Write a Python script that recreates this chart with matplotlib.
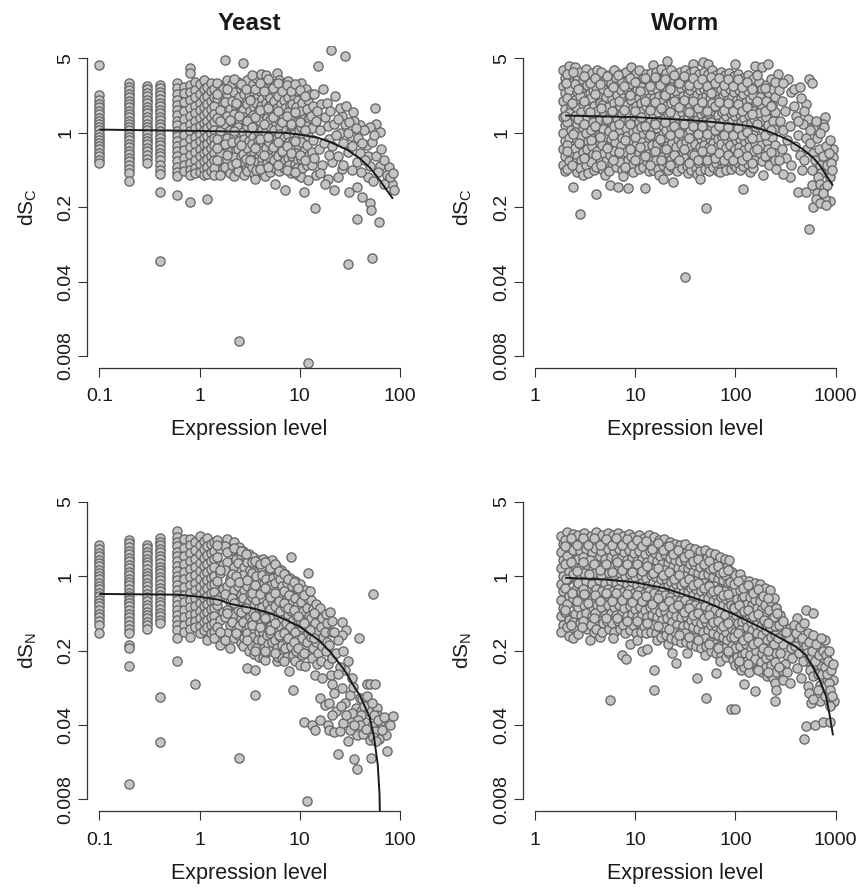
import matplotlib
matplotlib.use('Agg')
import matplotlib.pyplot as plt
from matplotlib.ticker import NullLocator

plt.rcParams['font.family'] = ['Liberation Sans', 'DejaVu Sans']
plt.rcParams['mathtext.fontset'] = 'custom'
plt.rcParams['mathtext.rm'] = 'Liberation Sans'

# ---------------- data ----------------
titles = ["Yeast", "Worm"]
x_label = "Expression level"
y_labels = [r"dS$_\mathregular{C}$", r"dS$_\mathregular{N}$"]
y_ticks = [0.008, 0.04, 0.2, 1, 5]
y_ticklabels = ["0.008", "0.04", "0.2", "1", "5"]
yeast_xticks = [0.1, 1, 10, 100]
yeast_xticklabels = ["0.1", "1", "10", "100"]
worm_xticks = [1, 10, 100, 1000]
worm_xticklabels = ["1", "10", "100", "1000"]

# ---- Yeast dSC ----
# genes with low (rounded) expression levels: expression -> dSC values
yeast_dsc_cols = {
    0.1: [4.3, 2.25, 2.05, 1.88, 1.74, 1.6, 1.49, 1.38, 1.28, 1.2, 1.12, 1.05, 0.98, 0.92, 0.86, 0.8, 0.75, 0.7, 0.65, 0.6, 0.56, 0.52],
    0.2: [2.9, 2.7, 2.5, 2.32, 2.15, 2.0, 1.86, 1.73, 1.6, 1.5, 1.4, 1.3, 1.21, 1.13, 1.05, 0.98, 0.91, 0.85, 0.79, 0.73, 0.68, 0.63, 0.58, 0.54, 0.5, 0.46, 0.42, 0.355],
    0.3: [2.73, 2.55, 2.37, 2.2, 2.04, 1.9, 1.76, 1.63, 1.52, 1.41, 1.31, 1.22, 1.13, 1.05, 0.97, 0.9, 0.84, 0.78, 0.72, 0.67, 0.62, 0.57, 0.52],
    0.4: [2.83, 2.62, 2.42, 2.24, 2.07, 1.92, 1.78, 1.65, 1.53, 1.42, 1.31, 1.22, 1.13, 1.04, 0.96, 0.89, 0.82, 0.76, 0.7, 0.65, 0.6, 0.55, 0.5, 0.45, 0.41, 0.28, 0.063],
    0.6: [2.9, 2.62, 2.3, 2.05, 1.84, 1.63, 1.47, 1.3, 1.17, 1.04, 0.94, 0.84, 0.75, 0.67, 0.6, 0.54, 0.48, 0.43, 0.39, 0.26],
    0.7: [2.7, 2.35, 1.95, 1.6, 1.36, 1.12, 0.95, 0.8, 0.69, 0.58, 0.5, 0.44],
    0.8: [4.06, 3.64, 2.8, 2.4, 2.05, 1.7, 1.45, 1.22, 1.03, 0.88, 0.73, 0.62, 0.52, 0.45, 0.4, 0.225],
    0.9: [3.0, 2.5, 2.15, 1.78, 1.52, 1.28, 1.1, 0.92, 0.79, 0.66, 0.56, 0.47, 0.42],
    1.0: [2.85, 2.3, 1.92, 1.62, 1.37, 1.16, 0.98, 0.84, 0.7, 0.6, 0.51, 0.43],
    1.1: [3.1, 2.6, 2.1, 1.75, 1.46, 1.24, 1.05, 0.89, 0.76, 0.64, 0.54, 0.46, 0.4],
    1.2: [2.7, 2.2, 1.86, 1.55, 1.3, 1.11, 0.93, 0.79, 0.67, 0.57, 0.48, 0.41, 0.24],
    1.3: [2.95, 2.45, 2.0, 1.68, 1.42, 1.19, 1.0, 0.85, 0.72, 0.61, 0.52, 0.44],
    1.4: [2.6, 2.15, 1.8, 1.5, 1.27, 1.07, 0.9, 0.77, 0.65, 0.55, 0.47, 0.4],
}
# (expression, dSC) for the continuous part of the cloud
yeast_dsc_pts = [
    (1.5, 2.9), (1.6, 2.45), (1.5, 2.1), (1.7, 1.9), (1.6, 1.62), (1.5, 1.38), (1.7, 1.2), (1.6, 1.03), (1.5, 0.88), (1.7, 0.76), (1.6, 0.65), (1.5, 0.55), (1.7, 0.47), (1.6, 0.4),
    (1.8, 4.79), (1.8, 2.75), (1.9, 2.3), (1.8, 1.95), (2.0, 1.68), (1.9, 1.44), (1.8, 1.22), (2.0, 1.05), (1.9, 0.9), (1.8, 0.78), (2.0, 0.66), (1.9, 0.56), (1.8, 0.48), (2.0, 0.42), (1.7, 2.6), (1.9, 3.1),
    (2.1, 2.85), (2.2, 2.4), (2.1, 2.0), (2.3, 1.75), (2.2, 1.5), (2.1, 1.27), (2.3, 1.1), (2.2, 0.95), (2.1, 0.81), (2.3, 0.69), (2.2, 0.59), (2.1, 0.5), (2.3, 0.43), (2.2, 0.39),
    (2.4, 3.0), (2.6, 2.55), (2.5, 2.15), (2.4, 1.82), (2.6, 1.56), (2.5, 1.33), (2.4, 1.13), (2.6, 0.97), (2.5, 0.83), (2.4, 0.7), (2.6, 0.6), (2.5, 0.51), (2.4, 0.44), (2.7, 4.52),
    (2.7, 2.75), (2.8, 2.3), (2.9, 1.95), (2.7, 1.65), (2.8, 1.4), (2.9, 1.19), (2.7, 1.02), (2.8, 0.87), (2.9, 0.74), (2.7, 0.63), (2.8, 0.53), (2.9, 0.46), (2.8, 0.4),
    (3.0, 3.15), (3.2, 2.6), (3.1, 2.2), (3.0, 1.88), (3.2, 1.6), (3.1, 1.36), (3.0, 1.16), (3.2, 0.99), (3.1, 0.84), (3.0, 0.72), (3.2, 0.61), (3.1, 0.52), (3.0, 0.44),
    (3.4, 2.85), (3.5, 2.4), (3.3, 2.05), (3.5, 1.74), (3.4, 1.48), (3.3, 1.26), (3.5, 1.07), (3.4, 0.91), (3.3, 0.78), (3.5, 0.66), (3.4, 0.56), (3.3, 0.48), (3.5, 0.41), (3.6, 0.37),
    (3.7, 3.3), (3.9, 2.7), (3.8, 2.25), (3.7, 1.92), (3.9, 1.63), (3.8, 1.39), (3.7, 1.18), (3.9, 1.0), (3.8, 0.86), (3.7, 0.73), (3.9, 0.62), (3.8, 0.53), (3.7, 0.45),
    (4.1, 3.55), (4.2, 2.9), (4.0, 2.45), (4.2, 2.08), (4.1, 1.77), (4.3, 1.5), (4.0, 1.28), (4.2, 1.09), (4.1, 0.93), (4.3, 0.79), (4.0, 0.67), (4.2, 0.57), (4.1, 0.49), (4.3, 0.42),
    (4.6, 3.51), (4.5, 2.65), (4.7, 2.25), (4.6, 1.9), (4.5, 1.62), (4.7, 1.38), (4.6, 1.17), (4.5, 1.0), (4.7, 0.85), (4.6, 0.72), (4.5, 0.61), (4.7, 0.52), (4.6, 0.44), (4.5, 0.39),
    (5.0, 3.0), (5.2, 2.5), (5.1, 2.12), (4.9, 1.8), (5.3, 1.53), (5.0, 1.31), (5.2, 1.11), (5.1, 0.95), (4.9, 0.81), (5.3, 0.69), (5.0, 0.58), (5.2, 0.5), (5.1, 0.43),
    (5.9, 3.64), (5.6, 2.8), (5.8, 2.35), (5.5, 2.0), (5.9, 1.7), (5.6, 1.45), (5.8, 1.23), (5.5, 1.05), (5.9, 0.89), (5.6, 0.76), (5.8, 0.65), (5.5, 0.55), (5.7, 0.47), (5.6, 0.333),
    (6.2, 3.1), (6.4, 2.6), (6.1, 2.2), (6.5, 1.86), (6.3, 1.58), (6.1, 1.35), (6.4, 1.14), (6.2, 0.97), (6.5, 0.83), (6.3, 0.7), (6.1, 0.6), (6.4, 0.51), (6.2, 0.44),
    (6.8, 2.85), (7.1, 2.4), (6.9, 2.02), (7.2, 1.72), (6.8, 1.46), (7.0, 1.25), (7.3, 1.06), (6.9, 0.9), (7.1, 0.77), (6.8, 0.65), (7.2, 0.55), (7.0, 0.47), (7.1, 0.29),
    (7.6, 3.05), (7.9, 2.55), (7.7, 2.15), (8.0, 1.83), (7.6, 1.55), (7.8, 1.32), (8.1, 1.12), (7.7, 0.95), (7.9, 0.81), (8.0, 0.69), (7.6, 0.58), (7.8, 0.5), (8.1, 0.42),
    (8.5, 2.65), (8.8, 2.2), (8.4, 1.88), (8.9, 1.6), (8.6, 1.36), (8.3, 1.15), (8.8, 0.98), (8.5, 0.83), (8.7, 0.71), (8.4, 0.6), (8.9, 0.51), (8.6, 0.44),
    (9.3, 2.45), (9.7, 2.05), (9.2, 1.73), (9.6, 1.47), (9.4, 1.25), (9.8, 1.06), (9.3, 0.9), (9.6, 0.77), (9.2, 0.65), (9.7, 0.55), (9.4, 0.47), (9.6, 0.4),
    (10.2, 2.9), (10.8, 2.3), (10.5, 1.9), (10.1, 1.6), (10.9, 1.36), (10.4, 1.14), (10.7, 0.96), (10.2, 0.81), (10.9, 0.68), (10.4, 0.57), (10.6, 0.47), (10.3, 0.38), (10.9, 0.28),
    (11.5, 2.55), (12.2, 2.05), (11.8, 1.68), (12.4, 1.38), (11.6, 1.15), (12.1, 0.94), (11.7, 0.77), (12.3, 0.62), (11.9, 0.5), (12.2, 0.36), (12.0, 0.0069),
    (13.0, 2.3), (13.5, 1.78), (12.9, 1.45), (13.3, 1.1), (13.6, 0.85), (13.1, 0.66), (13.4, 0.5), (2.5, 0.011),
]
yeast_dsc_pts_b = [
    (1.5, 2.3), (1.6, 1.3), (1.5, 0.72), (1.9, 2.55), (2.0, 1.32), (1.9, 0.62),
    (2.2, 3.2), (2.3, 1.9), (2.2, 1.03), (2.3, 0.52), (2.6, 2.85), (2.5, 1.45), (2.6, 0.76),
    (2.9, 2.55), (3.0, 1.3), (2.9, 0.57), (3.3, 3.5), (3.2, 2.05), (3.3, 1.12), (3.2, 0.55),
    (3.6, 2.6), (3.6, 1.4), (3.6, 0.72), (4.0, 2.95), (4.0, 1.65), (4.0, 0.88), (4.0, 0.46),
    (4.4, 2.45), (4.4, 1.2), (4.4, 0.62), (4.8, 3.2), (4.8, 1.7), (4.8, 0.92), (4.8, 0.48),
    (5.4, 2.65), (5.4, 1.4), (5.4, 0.74), (6.0, 2.95), (6.0, 1.6), (6.0, 0.82), (6.0, 0.5),
    (6.6, 2.45), (6.6, 1.25), (6.6, 0.68), (7.4, 2.8), (7.4, 1.45), (7.4, 0.75), (7.4, 0.45),
    (8.2, 2.45), (8.2, 1.2), (8.2, 0.64), (9.0, 2.85), (9.0, 1.55), (9.0, 0.83), (9.0, 0.43),
    (10.0, 2.5), (10.0, 1.25), (10.0, 0.62), (11.2, 2.2), (11.2, 1.05), (11.2, 0.55),
]
yeast_dsc_sparse_x = [15.1, 20.3, 28.2, 22.6, 16.4, 26.4, 34.3, 56.5, 57.7, 63.3, 50, 39.5, 32.5, 25, 19.8, 30.4, 46.8, 52.6, 48, 36.9,
                      26.4, 21.2, 50, 63.3, 77.5, 60.5, 48, 41, 83.5, 88, 68.5, 53.5, 31.1, 37, 22.2, 19, 14.5, 14.1, 42, 50,
                      51, 37, 62, 30.4, 52.6, 14, 15, 14.5, 16, 15.5, 14, 16.5, 18, 19, 17.5, 19.5, 21, 22, 23, 24,
                      25, 27, 28, 30, 33, 35, 38, 40, 44, 45, 55, 58, 65, 70, 75, 80, 85, 17, 18.5, 20,
                      24, 29, 31, 36, 42, 16, 18, 24, 27, 33]
yeast_dsc_sparse_y = [4.26, 6.0, 5.2, 2.2, 1.87, 1.45, 1.56, 1.70, 1.21, 1.02, 1.13, 1.17, 0.94, 1.0, 0.88, 0.66, 0.76, 0.82, 0.61, 0.53,
                      0.46, 0.53, 0.49, 0.49, 0.48, 0.43, 0.385, 0.43, 0.33, 0.29, 0.33, 0.35, 0.28, 0.31, 0.29, 0.37, 0.40, 0.195, 0.25, 0.22,
                      0.19, 0.155, 0.144, 0.059, 0.067, 2.3, 1.6, 1.3, 1.05, 0.7, 0.58, 0.5, 1.4, 1.15, 0.8, 0.62, 0.75, 1.2, 0.95, 0.6,
                      1.7, 0.8, 1.2, 1.0, 0.75, 1.3, 0.9, 0.65, 1.05, 0.55, 0.95, 0.6, 0.7, 0.55, 0.4, 0.38, 0.42, 2.6, 1.9, 1.6,
                      1.35, 1.8, 1.25, 1.1, 0.8, 0.42, 0.33, 0.38, 0.5, 0.45]
yeast_dsc_curve_x = [0.1, 1, 3, 7, 10, 15, 20, 30, 40, 50, 60, 70, 85]
yeast_dsc_curve_y = [1.07, 1.04, 1.02, 1.0, 0.96, 0.9, 0.82, 0.69, 0.57, 0.47, 0.38, 0.31, 0.24]

# ---- Yeast dSN ----
yeast_dsn_cols = {
    0.1: [1.95, 1.8, 1.66, 1.54, 1.43, 1.33, 1.24, 1.15, 1.07, 1.0, 0.93, 0.87, 0.81, 0.75, 0.7, 0.65, 0.6, 0.56, 0.52, 0.48, 0.445, 0.41, 0.38, 0.35, 0.29],
    0.2: [2.19, 2.03, 1.88, 1.74, 1.61, 1.49, 1.38, 1.28, 1.19, 1.1, 1.02, 0.95, 0.88, 0.82, 0.76, 0.7, 0.65, 0.6, 0.56, 0.52, 0.48, 0.44, 0.41, 0.38, 0.35, 0.32, 0.29, 0.226, 0.21, 0.143, 0.0112],
    0.3: [1.98, 1.84, 1.7, 1.58, 1.46, 1.36, 1.26, 1.17, 1.08, 1.0, 0.93, 0.86, 0.8, 0.74, 0.68, 0.63, 0.58, 0.54, 0.5, 0.46, 0.43, 0.4, 0.37, 0.345, 0.32],
    0.4: [2.27, 2.1, 1.95, 1.8, 1.67, 1.55, 1.44, 1.33, 1.23, 1.14, 1.06, 0.98, 0.91, 0.84, 0.78, 0.72, 0.67, 0.62, 0.57, 0.53, 0.49, 0.45, 0.42, 0.39, 0.363, 0.073, 0.0276],
    0.6: [2.64, 2.35, 2.1, 1.9, 1.7, 1.53, 1.38, 1.24, 1.12, 1.01, 0.91, 0.82, 0.74, 0.66, 0.6, 0.54, 0.48, 0.43, 0.39, 0.35, 0.31, 0.26, 0.16],
    0.7: [2.25, 1.85, 1.55, 1.3, 1.1, 0.93, 0.79, 0.67, 0.57, 0.48, 0.41, 0.35, 0.3],
    0.8: [2.23, 1.98, 1.65, 1.38, 1.16, 0.98, 0.83, 0.7, 0.6, 0.51, 0.43, 0.37, 0.32, 0.27],
    0.9: [2.1, 1.75, 1.46, 1.22, 1.03, 0.87, 0.74, 0.62, 0.52, 0.44, 0.38, 0.33, 0.097],
    1.0: [2.37, 1.95, 1.6, 1.33, 1.12, 0.94, 0.79, 0.67, 0.56, 0.47, 0.4, 0.34, 0.29],
    1.1: [2.15, 1.78, 1.48, 1.24, 1.04, 0.87, 0.73, 0.62, 0.52, 0.44, 0.37, 0.31],
    1.2: [2.3, 1.9, 1.57, 1.31, 1.09, 0.92, 0.77, 0.65, 0.55, 0.46, 0.39, 0.33, 0.25],
    1.3: [2.0, 1.66, 1.38, 1.16, 0.97, 0.82, 0.69, 0.58, 0.49, 0.41, 0.35, 0.29],
    1.4: [2.1, 1.74, 1.45, 1.21, 1.01, 0.85, 0.71, 0.6, 0.5, 0.42, 0.36, 0.3, 0.26],
}
yeast_dsn_pts = [
    (1.5, 2.2), (1.6, 1.8), (1.5, 1.5), (1.7, 1.27), (1.6, 1.07), (1.5, 0.9), (1.7, 0.76), (1.6, 0.64), (1.5, 0.54), (1.7, 0.46), (1.6, 0.39), (1.5, 0.33), (1.7, 0.28), (1.6, 0.226),
    (1.9, 2.23), (1.8, 1.9), (2.0, 1.6), (1.9, 1.35), (1.8, 1.13), (2.0, 0.95), (1.9, 0.8), (1.8, 0.68), (2.0, 0.57), (1.9, 0.48), (1.8, 0.41), (2.0, 0.35), (1.9, 0.29), (2.0, 0.21), (1.8, 0.25),
    (2.2, 2.09), (2.1, 1.75), (2.3, 1.46), (2.2, 1.23), (2.1, 1.04), (2.3, 0.88), (2.2, 0.74), (2.1, 0.62), (2.3, 0.52), (2.2, 0.44), (2.1, 0.37), (2.3, 0.31), (2.2, 0.26),
    (2.5, 1.88), (2.6, 1.58), (2.4, 1.33), (2.6, 1.12), (2.5, 0.95), (2.4, 0.8), (2.6, 0.67), (2.5, 0.57), (2.4, 0.48), (2.6, 0.4), (2.5, 0.34), (2.4, 0.28), (2.6, 0.235), (2.5, 0.0194),
    (2.7, 1.71), (2.9, 1.45), (2.8, 1.22), (2.7, 1.03), (2.9, 0.87), (2.8, 0.74), (2.7, 0.62), (2.9, 0.52), (2.8, 0.44), (2.7, 0.37), (2.9, 0.31), (2.8, 0.26), (2.7, 0.22),
    (3.1, 1.6), (3.0, 1.35), (3.2, 1.13), (3.1, 0.96), (3.0, 0.81), (3.2, 0.68), (3.1, 0.57), (3.0, 0.48), (3.2, 0.41), (3.1, 0.34), (3.0, 0.29), (3.2, 0.24), (3.1, 0.2), (3.0, 0.137),
    (3.4, 1.52), (3.5, 1.27), (3.3, 1.07), (3.5, 0.9), (3.4, 0.76), (3.3, 0.64), (3.5, 0.54), (3.4, 0.45), (3.3, 0.38), (3.5, 0.32), (3.4, 0.27), (3.3, 0.22), (3.5, 0.185), (3.6, 0.132), (3.6, 0.076),
    (3.8, 1.42), (3.9, 1.18), (3.7, 1.0), (3.9, 0.84), (3.8, 0.71), (3.7, 0.6), (3.9, 0.5), (3.8, 0.42), (3.7, 0.36), (3.9, 0.3), (3.8, 0.25), (3.7, 0.21), (3.9, 0.175),
    (4.3, 1.46), (4.1, 1.22), (4.2, 1.02), (4.4, 0.86), (4.1, 0.72), (4.3, 0.61), (4.2, 0.51), (4.4, 0.43), (4.1, 0.36), (4.3, 0.3), (4.2, 0.25), (4.4, 0.21), (4.3, 0.17), (4.5, 0.164),
    (4.7, 1.35), (4.9, 1.12), (4.6, 0.95), (4.8, 0.8), (4.9, 0.67), (4.7, 0.56), (4.8, 0.47), (4.6, 0.4), (4.9, 0.33), (4.7, 0.28), (4.8, 0.23), (4.6, 0.195),
    (5.3, 1.41), (5.1, 1.16), (5.4, 0.97), (5.2, 0.82), (5.0, 0.69), (5.3, 0.58), (5.1, 0.49), (5.4, 0.41), (5.2, 0.34), (5.0, 0.29), (5.3, 0.24), (5.1, 0.2), (5.9, 0.158),
    (5.8, 1.25), (6.0, 1.03), (5.7, 0.87), (6.1, 0.73), (5.9, 0.61), (5.6, 0.52), (6.0, 0.43), (5.8, 0.36), (6.1, 0.3), (5.7, 0.25), (5.9, 0.21), (6.0, 0.175),
    (6.5, 1.15), (6.3, 0.95), (6.7, 0.8), (6.4, 0.67), (6.6, 0.56), (6.3, 0.47), (6.7, 0.39), (6.5, 0.33), (6.4, 0.27), (6.6, 0.225), (6.7, 0.17),
    (7.2, 1.05), (7.5, 0.87), (7.0, 0.73), (7.4, 0.61), (7.1, 0.51), (7.6, 0.43), (7.3, 0.36), (7.0, 0.3), (7.5, 0.25), (7.2, 0.21), (7.8, 0.129), (7.4, 0.175),
    (8.1, 1.52), (8.0, 0.97), (8.4, 0.8), (7.9, 0.67), (8.3, 0.56), (8.1, 0.47), (8.5, 0.39), (8.0, 0.33), (8.4, 0.27), (8.2, 0.22), (8.5, 0.18), (8.5, 0.086),
    (9.0, 0.9), (9.4, 0.75), (8.9, 0.62), (9.3, 0.52), (9.1, 0.43), (9.5, 0.36), (9.0, 0.3), (9.4, 0.25), (9.2, 0.2), (9.0, 0.16),
    (10.0, 0.85), (10.6, 0.68), (10.2, 0.57), (10.8, 0.47), (10.1, 0.39), (10.5, 0.33), (10.9, 0.27), (10.3, 0.22), (10.6, 0.18), (10.0, 0.145), (10.5, 0.26),
    (12.0, 1.08), (11.4, 0.74), (12.2, 0.61), (11.7, 0.5), (12.4, 0.42), (11.5, 0.35), (12.1, 0.29), (11.8, 0.24), (12.3, 0.19), (11.4, 0.142), (11.8, 0.0077), (11.0, 0.043),
    (13.0, 0.6), (13.6, 0.49), (12.9, 0.4), (13.4, 0.33), (13.0, 0.27), (13.7, 0.21), (13.2, 0.17), (13.4, 0.04),
    (14.5, 0.55), (15.2, 0.44), (14.3, 0.36), (15.0, 0.3), (14.6, 0.24), (15.3, 0.19), (14.1, 0.118), (14.8, 0.15), (14.1, 0.036),
    (16.0, 0.5), (16.8, 0.4), (16.2, 0.33), (17.0, 0.27), (16.4, 0.158), (16.6, 0.22), (16.8, 0.11), (15.8, 0.072), (15.8, 0.045),
    (18.2, 0.44), (18.8, 0.36), (18.0, 0.3), (18.5, 0.24), (18.2, 0.196), (19.0, 0.15), (17.7, 0.062), (19.0, 0.04),
    (20.2, 0.465), (20.8, 0.38), (19.8, 0.226), (21.0, 0.3), (21.2, 0.17), (20.3, 0.118), (20.8, 0.096), (19.8, 0.064), (19.8, 0.036),
]
yeast_dsn_pts_b = [
    (1.5, 1.95), (1.6, 1.15), (1.5, 0.6), (1.6, 0.3), (1.9, 1.7), (2.0, 0.88), (1.9, 0.45),
    (2.2, 1.85), (2.3, 1.0), (2.2, 0.56), (2.3, 0.29), (2.6, 1.72), (2.5, 0.88), (2.6, 0.46),
    (2.9, 1.6), (3.0, 0.92), (2.9, 0.5), (3.0, 0.25), (3.3, 1.35), (3.3, 0.7), (3.3, 0.35),
    (3.6, 1.4), (3.6, 0.82), (3.6, 0.42), (3.6, 0.2), (4.0, 1.3), (4.0, 0.68), (4.0, 0.33),
    (4.5, 1.35), (4.5, 0.78), (4.5, 0.4), (4.5, 0.2), (5.0, 1.2), (5.0, 0.63), (5.0, 0.31),
    (5.6, 1.3), (5.6, 0.7), (5.6, 0.36), (5.6, 0.19), (6.2, 1.12), (6.2, 0.58), (6.2, 0.28),
    (6.9, 1.05), (6.9, 0.56), (6.9, 0.29), (6.9, 0.16), (7.7, 0.95), (7.7, 0.5), (7.7, 0.26),
    (8.7, 0.88), (8.7, 0.48), (8.7, 0.24), (9.6, 0.78), (9.6, 0.42), (9.6, 0.21),
    (11.0, 0.66), (11.0, 0.36), (11.0, 0.19), (12.6, 0.72), (12.6, 0.31), (14.0, 0.45), (14.0, 0.26),
]
yeast_dsn_sparse_x = [26.4, 29, 26.4, 38.6, 54, 28.2, 21.2, 26.4, 23, 31.5, 39.5, 46.7, 50, 56, 36, 41, 31.5, 45, 48, 52,
                      63, 85, 72, 62, 50, 51, 35, 37, 24, 30.4, 37, 75, 41, 22.2, 25, 21.2, 33, 33, 59, 59,
                      56.5, 24, 23, 25, 27, 22, 24, 30, 28, 34, 42, 44, 47, 53, 38, 40, 55, 60, 66, 70,
                      27, 29, 32, 35, 43, 46, 54, 58, 80, 26, 22]
yeast_dsn_sparse_y = [0.374, 0.31, 0.28, 0.26, 0.674, 0.132, 0.17, 0.089, 0.054, 0.077, 0.072, 0.096, 0.096, 0.096, 0.058, 0.054, 0.047, 0.043, 0.054, 0.039,
                      0.043, 0.049, 0.0325, 0.0293, 0.029, 0.0197, 0.019, 0.0153, 0.0214, 0.028, 0.0325, 0.0227, 0.05, 0.034, 0.035, 0.05, 0.11, 0.052, 0.058, 0.05,
                      0.035, 0.25, 0.19, 0.14, 0.2, 0.3, 0.12, 0.16, 0.065, 0.09, 0.07, 0.06, 0.075, 0.065, 0.045, 0.04, 0.05, 0.045, 0.036, 0.048,
                      0.042, 0.05, 0.036, 0.04, 0.033, 0.037, 0.031, 0.028, 0.04, 0.06, 0.08]
yeast_dsn_curve_x = [0.1, 0.6, 1, 1.56, 2, 3.37, 5, 7.2, 10, 15.5, 20, 26.5, 30, 33.4, 40, 50, 55, 60, 62.5, 63.5]
yeast_dsn_curve_y = [0.68, 0.67, 0.64, 0.6, 0.55, 0.5, 0.45, 0.39, 0.335, 0.25, 0.196, 0.14, 0.118, 0.098, 0.075, 0.047, 0.031, 0.017, 0.009, 0.004]

# ---- Worm dSC ----
worm_dsc_cols = {}
worm_dsc_pts = [
    (1.9, 3.85), (2.0, 3.3), (1.9, 2.75), (2.0, 2.35), (1.9, 1.98), (2.0, 1.66), (1.9, 1.42), (2.0, 1.18), (1.9, 1.0), (2.0, 0.84), (1.9, 0.71), (2.0, 0.6), (1.9, 0.5), (2.0, 0.44),
    (2.2, 4.2), (2.1, 3.55), (2.3, 2.95), (2.2, 2.5), (2.1, 2.12), (2.3, 1.8), (2.2, 1.52), (2.1, 1.27), (2.3, 1.07), (2.2, 0.9), (2.1, 0.76), (2.3, 0.64), (2.2, 0.54), (2.1, 0.46), (2.4, 0.31),
    (2.5, 4.1), (2.6, 3.4), (2.5, 2.85), (2.6, 2.4), (2.5, 2.02), (2.6, 1.7), (2.5, 1.44), (2.6, 1.21), (2.5, 1.02), (2.6, 0.86), (2.5, 0.72), (2.6, 0.61), (2.5, 0.52), (2.6, 0.43), (2.8, 0.171),
    (2.8, 3.7), (3.0, 3.15), (2.9, 2.62), (2.8, 2.2), (3.0, 1.86), (2.9, 1.56), (2.8, 1.31), (3.0, 1.1), (2.9, 0.93), (2.8, 0.78), (3.0, 0.66), (2.9, 0.55), (2.8, 0.47), (3.0, 0.4),
    (3.2, 3.95), (3.4, 3.3), (3.3, 2.8), (3.5, 2.35), (3.2, 1.97), (3.4, 1.66), (3.3, 1.4), (3.5, 1.18), (3.2, 0.99), (3.4, 0.83), (3.3, 0.7), (3.5, 0.59), (3.2, 0.5), (3.4, 0.42),
    (3.7, 3.6), (3.9, 3.0), (3.8, 2.52), (3.6, 2.12), (3.9, 1.79), (3.7, 1.5), (3.8, 1.26), (3.6, 1.06), (3.9, 0.9), (3.7, 0.75), (3.8, 0.63), (3.6, 0.53), (3.9, 0.45),
    (4.2, 3.85), (4.4, 3.2), (4.1, 2.7), (4.3, 2.27), (4.5, 1.91), (4.2, 1.6), (4.4, 1.35), (4.1, 1.13), (4.3, 0.95), (4.5, 0.8), (4.2, 0.67), (4.4, 0.57), (4.1, 0.48), (4.1, 0.265),
    (4.6, 3.74), (5.0, 3.05), (4.8, 2.55), (5.1, 2.15), (4.7, 1.81), (4.9, 1.52), (5.1, 1.28), (4.8, 1.08), (5.0, 0.91), (4.7, 0.76), (4.9, 0.64), (5.1, 0.54), (4.8, 0.45), (5.0, 0.4),
    (5.4, 3.5), (5.7, 2.95), (5.5, 2.45), (5.8, 2.06), (5.4, 1.74), (5.6, 1.46), (5.8, 1.23), (5.5, 1.03), (5.7, 0.87), (5.4, 0.73), (5.6, 0.62), (5.8, 0.52), (5.5, 0.44), (5.6, 0.32),
    (6.2, 3.9), (6.5, 3.25), (6.3, 2.72), (6.6, 2.28), (6.1, 1.92), (6.4, 1.62), (6.6, 1.36), (6.2, 1.15), (6.5, 0.97), (6.3, 0.81), (6.1, 0.68), (6.6, 0.57), (6.4, 0.48), (6.8, 0.31),
    (7.0, 3.55), (7.4, 2.98), (7.2, 2.5), (7.5, 2.1), (7.0, 1.77), (7.3, 1.49), (7.6, 1.25), (7.1, 1.05), (7.4, 0.89), (7.2, 0.75), (7.6, 0.63), (7.0, 0.53), (7.3, 0.45), (7.5, 0.39),
    (8.0, 3.7), (8.5, 3.1), (8.2, 2.6), (8.6, 2.18), (8.1, 1.84), (8.4, 1.55), (8.7, 1.3), (8.0, 1.1), (8.3, 0.93), (8.6, 0.78), (8.1, 0.66), (8.5, 0.55), (8.2, 0.47), (8.5, 0.3),
    (9.0, 4.1), (9.5, 3.4), (9.2, 2.85), (9.7, 2.4), (9.0, 2.02), (9.4, 1.7), (9.8, 1.43), (9.1, 1.2), (9.5, 1.01), (9.2, 0.85), (9.7, 0.72), (9.0, 0.6), (9.4, 0.51), (9.6, 0.43),
    (10.1, 3.6), (10.8, 3.0), (10.4, 2.52), (11.0, 2.12), (10.2, 1.79), (10.6, 1.5), (11.0, 1.27), (10.3, 1.07), (10.7, 0.9), (10.1, 0.76), (10.9, 0.64), (10.4, 0.54), (10.8, 0.46),
    (11.0, 3.9), (12.0, 3.25), (11.5, 2.7), (12.2, 2.28), (11.3, 1.92), (11.8, 1.61), (12.3, 1.36), (11.4, 1.14), (12.0, 0.96), (11.6, 0.81), (12.2, 0.68), (11.3, 0.57), (11.9, 0.48), (12.5, 0.3),
    (12.8, 3.55), (13.6, 2.98), (13.0, 2.5), (13.8, 2.1), (12.9, 1.77), (13.4, 1.49), (13.9, 1.25), (13.1, 1.05), (13.7, 0.89), (12.9, 0.75), (13.5, 0.63), (13.2, 0.53), (13.8, 0.44),
    (15.1, 4.32), (14.5, 3.6), (15.5, 3.0), (14.7, 2.52), (15.3, 2.12), (14.4, 1.78), (15.0, 1.5), (15.6, 1.26), (14.6, 1.06), (15.2, 0.9), (14.8, 0.76), (15.5, 0.64), (14.5, 0.54), (15.1, 0.45),
    (16.2, 3.7), (17.2, 3.1), (16.5, 2.6), (17.4, 2.19), (16.3, 1.84), (16.9, 1.55), (17.5, 1.3), (16.4, 1.1), (17.0, 0.92), (16.6, 0.78), (17.3, 0.65), (16.2, 0.55), (16.9, 0.46), (17.2, 0.4),
    (18.2, 3.95), (19.3, 3.3), (18.5, 2.77), (19.5, 2.33), (18.3, 1.96), (19.0, 1.65), (19.6, 1.39), (18.4, 1.17), (19.1, 0.98), (18.7, 0.83), (19.4, 0.7), (18.3, 0.59), (19.0, 0.5), (19.0, 0.37),
    (20.8, 4.75), (20.3, 3.6), (21.5, 3.0), (20.6, 2.52), (21.8, 2.12), (20.4, 1.78), (21.1, 1.5), (21.9, 1.26), (20.5, 1.06), (21.3, 0.89), (20.8, 0.75), (21.6, 0.63), (20.4, 0.53), (21.2, 0.45),
    (22.6, 3.85), (24.0, 3.22), (23.0, 2.7), (24.3, 2.27), (22.8, 1.91), (23.6, 1.6), (24.4, 1.35), (22.9, 1.13), (23.8, 0.95), (23.2, 0.8), (24.2, 0.67), (22.7, 0.57), (23.5, 0.48), (24.0, 0.346),
    (25.2, 3.5), (26.8, 2.95), (25.6, 2.48), (27.0, 2.08), (25.4, 1.75), (26.2, 1.47), (27.1, 1.24), (25.5, 1.04), (26.5, 0.87), (25.8, 0.73), (26.9, 0.62), (25.3, 0.52), (26.3, 0.44),
    (28.0, 3.75), (29.8, 3.15), (28.5, 2.64), (30.0, 2.22), (28.2, 1.87), (29.2, 1.57), (30.2, 1.32), (28.4, 1.11), (29.5, 0.93), (28.8, 0.78), (30.0, 0.66), (28.1, 0.55), (29.3, 0.47), (31.3, 0.0446),
    (31.5, 3.9), (33.2, 3.27), (31.8, 2.75), (33.6, 2.31), (31.6, 1.94), (32.6, 1.63), (33.8, 1.37), (31.7, 1.15), (33.0, 0.97), (32.2, 0.81), (33.5, 0.68), (31.5, 0.58), (32.8, 0.49), (33.4, 0.42),
    (35.0, 3.6), (37.0, 3.02), (35.4, 2.54), (37.4, 2.13), (35.2, 1.79), (36.2, 1.5), (37.6, 1.26), (35.3, 1.06), (36.6, 0.89), (35.8, 0.75), (37.2, 0.63), (35.1, 0.53), (36.4, 0.45), (37.8, 4.42),
    (39.0, 3.8), (41.0, 3.18), (39.4, 2.67), (41.5, 2.24), (39.2, 1.88), (40.3, 1.58), (41.7, 1.33), (39.3, 1.12), (40.6, 0.94), (39.8, 0.79), (41.3, 0.66), (39.1, 0.56), (40.4, 0.47), (41.0, 0.41),
    (43.3, 3.55), (45.6, 2.98), (43.8, 2.5), (46.0, 2.1), (43.5, 1.77), (44.8, 1.49), (46.2, 1.25), (43.6, 1.05), (45.2, 0.88), (44.2, 0.74), (45.8, 0.62), (43.4, 0.52), (44.6, 0.44), (44.0, 0.37),
    (47.6, 4.58), (48.0, 3.7), (50.4, 3.1), (48.4, 2.6), (50.8, 2.19), (48.2, 1.84), (49.6, 1.55), (51.0, 1.3), (48.3, 1.09), (50.0, 0.92), (49.0, 0.77), (50.6, 0.65), (48.1, 0.55), (49.4, 0.46), (50.8, 0.198),
    (53.5, 4.42), (52.8, 3.55), (55.6, 2.98), (53.4, 2.5), (56.0, 2.1), (53.1, 1.77), (54.6, 1.49), (56.2, 1.25), (53.2, 1.05), (55.1, 0.88), (54.0, 0.74), (55.8, 0.62), (53.0, 0.52), (54.4, 0.44),
    (58.2, 3.85), (61.5, 3.22), (58.8, 2.7), (62.0, 2.27), (58.5, 1.91), (60.3, 1.6), (62.2, 1.35), (58.6, 1.13), (60.9, 0.95), (59.6, 0.8), (61.7, 0.67), (58.4, 0.57), (60.0, 0.48),
    (64.2, 3.5), (67.8, 2.95), (64.8, 2.48), (68.2, 2.08), (64.5, 1.75), (66.4, 1.47), (68.5, 1.24), (64.6, 1.04), (67.0, 0.87), (65.6, 0.73), (67.9, 0.62), (64.3, 0.52), (66.2, 0.44),
    (71.0, 3.7), (75.0, 3.1), (71.6, 2.6), (75.5, 2.19), (71.3, 1.84), (73.4, 1.55), (75.8, 1.3), (71.4, 1.1), (74.0, 0.92), (72.5, 0.78), (75.2, 0.65), (71.1, 0.55), (73.2, 0.47), (70.0, 0.43),
    (78.5, 3.45), (83.0, 2.9), (79.2, 2.43), (83.5, 2.04), (78.8, 1.72), (81.2, 1.44), (83.8, 1.21), (79.0, 1.02), (82.0, 0.86), (80.2, 0.72), (83.2, 0.61), (78.6, 0.51), (81.0, 0.45),
    (87.0, 3.65), (92.0, 3.06), (87.8, 2.57), (92.6, 2.16), (87.4, 1.82), (90.0, 1.53), (93.0, 1.28), (87.6, 1.08), (91.0, 0.91), (89.0, 0.76), (92.2, 0.64), (87.2, 0.54), (89.6, 0.46),
    (98.6, 4.42), (96.5, 3.4), (102, 2.85), (97.3, 2.4), (102.5, 2.02), (96.8, 1.7), (99.6, 1.43), (103, 1.2), (97.0, 1.01), (100.8, 0.85), (98.5, 0.71), (102, 0.6), (96.5, 0.5), (102, 0.476),
    (107, 3.55), (113, 2.98), (108, 2.5), (114, 2.1), (107.5, 1.77), (110.5, 1.49), (114.5, 1.25), (108, 1.05), (112, 0.88), (109.5, 0.74), (113.5, 0.62), (107, 0.52), (110, 0.45), (119, 0.295),
    (119, 3.3), (126, 2.77), (120, 2.33), (126.5, 1.96), (119.5, 1.65), (123, 1.39), (127, 1.17), (120, 0.98), (124.5, 0.82), (121.5, 0.69), (126, 0.58), (119, 0.49),
    (132, 3.5), (140, 2.93), (133, 2.46), (141, 2.07), (132.5, 1.74), (136.5, 1.46), (141.5, 1.23), (133, 1.03), (138, 0.87), (135, 0.73), (140, 0.61), (132, 0.51), (139, 0.43),
    (157, 4.26), (149, 3.2), (159, 2.7), (150, 2.27), (160, 1.91), (149.5, 1.6), (154, 1.35), (160, 1.13), (150, 0.95), (156, 0.8), (152, 0.67), (158, 0.56), (149, 0.47),
    (182, 4.1), (172, 3.0), (185, 2.55), (174, 2.15), (186, 1.8), (173, 1.52), (179, 1.28), (187, 1.07), (174, 0.9), (181, 0.76), (177, 0.64), (184, 0.54), (190, 0.40),
    (212, 4.42), (202, 2.8), (216, 2.36), (204, 1.98), (218, 1.67), (203, 1.4), (210, 1.18), (219, 0.99), (205, 0.83), (213, 0.7), (207, 0.59), (216, 0.5),
    (235, 2.6), (248, 2.18), (232, 1.84), (250, 1.55), (238, 1.3), (245, 1.09), (233, 0.92), (250, 0.77), (240, 0.65), (246, 0.55), (256, 0.46),
]
worm_dsc_pts_b = [
    (2.05, 2.95), (2.0, 1.45), (2.1, 0.68), (2.4, 3.7), (2.35, 1.9), (2.4, 0.98), (2.35, 0.5),
    (2.7, 2.6), (2.7, 1.35), (2.75, 0.8), (3.05, 3.4), (3.1, 2.0), (3.05, 1.2), (3.1, 0.58),
    (3.55, 2.95), (3.5, 1.55), (3.6, 0.85), (4.0, 3.3), (3.95, 2.3), (4.0, 1.15), (4.05, 0.62),
    (4.5, 2.85), (4.55, 1.7), (4.5, 0.92), (4.6, 0.5), (5.2, 3.4), (5.3, 2.4), (5.25, 1.35), (5.2, 0.72),
    (6.0, 2.7), (5.9, 1.6), (6.0, 0.95), (5.95, 0.55), (6.8, 3.45), (6.9, 2.0), (6.85, 1.2), (6.9, 0.66),
    (7.8, 2.75), (7.8, 1.65), (7.85, 0.85), (7.9, 0.48), (8.8, 3.3), (8.9, 2.25), (8.8, 1.2), (8.9, 0.7),
    (9.9, 3.0), (10.0, 1.6), (9.9, 0.92), (10.0, 0.55), (11.2, 2.45), (11.3, 1.4), (11.2, 0.73),
    (12.5, 3.3), (12.6, 2.0), (12.5, 1.15), (12.6, 0.6), (14.0, 2.75), (14.1, 1.65), (14.0, 0.95), (14.1, 0.5),
    (15.8, 3.35), (15.9, 1.95), (15.8, 1.2), (15.9, 0.68), (17.8, 2.8), (17.9, 1.7), (17.8, 0.87), (17.9, 0.55),
    (20.0, 3.2), (19.9, 2.25), (20.0, 1.25), (20.1, 0.7), (22.0, 2.6), (22.1, 1.55), (22.0, 0.95), (22.1, 0.5),
    (24.5, 3.5), (24.6, 2.0), (24.5, 1.15), (24.6, 0.62), (27.5, 2.9), (27.4, 1.75), (27.5, 1.0), (27.6, 0.55),
    (30.5, 3.4), (30.6, 2.05), (30.5, 1.2), (30.6, 0.7), (34.0, 2.8), (34.2, 1.55), (34.0, 0.9), (34.1, 0.52),
    (38.0, 3.3), (38.1, 2.0), (38.0, 1.15), (38.2, 0.62), (42.0, 2.85), (42.2, 1.7), (42.0, 0.98), (42.1, 0.55),
    (46.0, 3.2), (46.2, 1.95), (46.0, 1.15), (46.1, 0.67), (51.5, 2.75), (51.7, 1.6), (51.5, 0.98), (51.6, 0.55),
    (57.0, 3.35), (57.2, 2.35), (57.0, 1.25), (57.1, 0.7), (63.0, 2.95), (63.1, 1.8), (63.0, 1.05), (63.2, 0.58),
    (69.0, 3.3), (69.2, 1.95), (69.0, 1.15), (69.1, 0.65), (77.0, 2.8), (77.1, 1.65), (77.0, 0.96), (77.2, 0.56),
    (85.0, 3.2), (85.2, 1.9), (85.0, 1.12), (85.1, 0.62), (94.0, 2.75), (94.2, 1.6), (94.0, 0.95), (94.1, 0.55),
    (105, 3.2), (105.5, 1.85), (105, 1.1), (105.5, 0.65), (116, 2.7), (116.5, 1.6), (116, 0.95), (116.5, 0.55),
    (129, 3.0), (129.5, 1.75), (129, 1.02), (129.5, 0.6), (145, 2.6), (145.5, 1.5), (145, 0.9), (145.5, 0.52),
    (165, 3.5), (165.5, 2.0), (165, 1.2), (165.5, 0.7), (195, 2.65), (196, 1.6), (195, 0.95), (196, 0.6),
    (225, 3.2), (226, 1.8), (225, 1.05), (226, 0.66),
]
worm_dsc_sparse_x = [266, 335, 540, 574, 510, 530, 780, 740, 760, 945, 945, 840, 870, 780, 595, 545, 420, 510, 650, 575,
                     350, 300, 270, 290, 310, 280, 300, 330, 290, 320, 270, 360, 380, 400, 350, 420, 390, 440,
                     360, 460, 450, 480, 470, 500, 520, 480, 560, 600, 620, 580, 650, 680, 700, 720, 660, 750, 800, 820,
                     850, 880, 900, 920, 700, 760, 820, 630, 690, 740, 800, 600, 640, 700, 880, 420, 560, 250, 300, 380, 440]
worm_dsc_sparse_y = [3.56, 3.2, 3.2, 2.92, 1.87, 1.35, 1.40, 1.21, 1.13, 0.71, 0.59, 0.43, 0.23, 0.24, 0.2, 0.125, 0.28, 0.28, 0.27, 0.32,
                     0.385, 0.41, 2.5, 2.0, 1.6, 1.3, 1.05, 0.85, 0.7, 0.58, 0.55, 2.4, 1.8, 1.45, 1.15, 0.95, 0.75, 0.62,
                     0.5, 0.45, 2.1, 1.6, 1.2, 0.9, 0.7, 0.55, 0.8, 0.65, 0.55, 0.45, 0.9, 0.7, 0.5, 0.42, 0.38, 0.6, 0.75, 0.5,
                     0.65, 0.38, 0.52, 0.45, 0.33, 0.3, 0.32, 0.24, 0.22, 0.27, 0.21, 1.1, 1.3, 1.0, 0.85, 1.3, 1.05, 3.0, 2.9, 2.6, 2.7]
worm_dsc_curve_x = [2, 10, 32, 50, 100, 150, 200, 277, 350, 470, 600, 700, 800, 940]
worm_dsc_curve_y = [1.45, 1.40, 1.32, 1.28, 1.2, 1.14, 1.05, 0.93, 0.84, 0.70, 0.58, 0.49, 0.40, 0.32]

# ---- Worm dSN ----
worm_dsn_cols = {}
worm_dsn_pts = [
    (1.8, 2.4), (1.9, 2.02), (1.8, 1.7), (1.9, 1.43), (1.8, 1.2), (1.9, 1.01), (1.8, 0.85), (1.9, 0.72), (1.8, 0.6), (1.9, 0.5), (1.8, 0.42), (1.9, 0.35), (1.8, 0.3),
    (2.1, 2.6), (2.0, 2.2), (2.2, 1.85), (2.1, 1.55), (2.0, 1.3), (2.2, 1.1), (2.1, 0.92), (2.0, 0.78), (2.2, 0.65), (2.1, 0.55), (2.0, 0.46), (2.2, 0.39), (2.1, 0.33), (2.2, 0.276),
    (2.4, 2.5), (2.5, 2.1), (2.4, 1.76), (2.6, 1.48), (2.5, 1.24), (2.4, 1.04), (2.6, 0.88), (2.5, 0.74), (2.4, 0.62), (2.6, 0.52), (2.5, 0.44), (2.4, 0.37), (2.6, 0.31), (2.4, 0.26),
    (2.7, 2.45), (2.9, 2.05), (2.8, 1.72), (2.7, 1.45), (2.9, 1.21), (2.8, 1.02), (2.7, 0.86), (2.9, 0.72), (2.8, 0.6), (2.7, 0.51), (2.9, 0.43), (2.8, 0.36), (2.7, 0.285),
    (3.1, 2.55), (3.3, 2.14), (3.2, 1.8), (3.0, 1.51), (3.3, 1.27), (3.1, 1.07), (3.2, 0.9), (3.0, 0.76), (3.3, 0.64), (3.1, 0.53), (3.2, 0.45), (3.0, 0.38), (3.3, 0.32), (3.5, 0.25),
    (3.6, 2.4), (3.8, 2.02), (3.7, 1.7), (3.5, 1.43), (3.8, 1.2), (3.6, 1.01), (3.7, 0.85), (3.9, 0.72), (3.6, 0.6), (3.8, 0.5), (3.7, 0.42), (3.6, 0.35), (3.9, 0.3),
    (4.1, 2.58), (4.3, 2.16), (4.0, 1.82), (4.4, 1.53), (4.2, 1.28), (4.0, 1.08), (4.3, 0.91), (4.1, 0.76), (4.4, 0.64), (4.2, 0.54), (4.0, 0.45), (4.3, 0.38), (4.1, 0.32), (4.4, 0.27),
    (4.7, 2.45), (4.9, 2.05), (4.6, 1.72), (5.0, 1.45), (4.8, 1.22), (4.6, 1.02), (5.0, 0.86), (4.7, 0.72), (4.9, 0.61), (4.6, 0.51), (5.0, 0.43), (4.8, 0.36), (4.7, 0.3),
    (5.3, 2.55), (5.6, 2.15), (5.4, 1.8), (5.7, 1.52), (5.2, 1.27), (5.5, 1.07), (5.7, 0.9), (5.3, 0.76), (5.6, 0.64), (5.4, 0.54), (5.7, 0.45), (5.2, 0.38), (5.5, 0.32), (5.6, 0.069),
    (6.0, 2.45), (6.3, 2.06), (6.1, 1.73), (6.4, 1.45), (5.9, 1.22), (6.2, 1.03), (6.4, 0.86), (6.0, 0.73), (6.3, 0.61), (6.1, 0.51), (6.4, 0.43), (5.9, 0.36), (6.2, 0.3), (6.0, 0.26),
    (6.8, 2.55), (7.1, 2.14), (6.9, 1.8), (7.3, 1.51), (6.7, 1.27), (7.0, 1.07), (7.2, 0.9), (6.8, 0.76), (7.1, 0.64), (6.9, 0.53), (7.3, 0.45), (6.7, 0.38), (7.0, 0.32), (7.3, 0.18),
    (7.6, 2.4), (8.0, 2.02), (7.7, 1.7), (8.2, 1.42), (7.5, 1.2), (7.9, 1.0), (8.2, 0.84), (7.6, 0.71), (8.0, 0.6), (7.8, 0.5), (8.2, 0.42), (7.6, 0.35), (7.9, 0.29), (8.0, 0.165),
    (8.6, 2.5), (9.1, 2.1), (8.7, 1.77), (9.2, 1.48), (8.5, 1.25), (8.9, 1.05), (9.3, 0.88), (8.6, 0.74), (9.0, 0.62), (8.8, 0.52), (9.2, 0.44), (8.6, 0.37), (8.9, 0.31), (8.8, 0.23),
    (9.6, 2.35), (10.2, 1.98), (9.7, 1.66), (10.4, 1.4), (9.5, 1.17), (10.0, 0.99), (10.5, 0.83), (9.7, 0.7), (10.2, 0.59), (9.9, 0.49), (10.4, 0.41), (9.6, 0.35), (10.1, 0.29), (10.3, 0.25),
    (10.9, 2.45), (11.5, 2.06), (11.0, 1.73), (11.7, 1.45), (10.8, 1.22), (11.3, 1.03), (11.8, 0.86), (11.0, 0.73), (11.6, 0.61), (11.2, 0.51), (11.7, 0.43), (10.9, 0.36), (11.4, 0.3), (11.8, 0.196),
    (12.2, 2.3), (13.0, 1.94), (12.4, 1.63), (13.2, 1.37), (12.1, 1.15), (12.7, 0.97), (13.3, 0.81), (12.3, 0.68), (13.0, 0.58), (12.6, 0.48), (13.1, 0.41), (12.2, 0.34), (12.8, 0.29), (13.0, 0.205),
    (13.7, 2.45), (14.6, 2.06), (13.9, 1.73), (14.8, 1.45), (13.6, 1.22), (14.2, 1.03), (14.9, 0.86), (13.8, 0.73), (14.5, 0.61), (14.1, 0.51), (14.7, 0.43), (13.7, 0.36), (14.3, 0.3), (15.3, 0.132), (15.3, 0.086),
    (15.4, 2.35), (16.4, 1.98), (15.6, 1.66), (16.6, 1.4), (15.3, 1.17), (16.0, 0.99), (16.7, 0.83), (15.5, 0.7), (16.3, 0.59), (15.8, 0.49), (16.5, 0.41), (15.4, 0.35), (16.1, 0.29), (16.6, 0.25),
    (17.3, 2.2), (18.4, 1.85), (17.5, 1.56), (18.7, 1.31), (17.2, 1.1), (18.0, 0.93), (18.8, 0.78), (17.4, 0.66), (18.3, 0.55), (17.8, 0.46), (18.6, 0.39), (17.3, 0.33), (18.1, 0.27),
    (19.5, 2.25), (20.8, 1.9), (19.8, 1.6), (21.0, 1.34), (19.4, 1.13), (20.3, 0.95), (21.2, 0.8), (19.6, 0.67), (20.6, 0.56), (20.0, 0.47), (20.9, 0.4), (19.5, 0.33), (20.4, 0.28), (21.0, 0.23),
    (22.0, 2.1), (23.4, 1.77), (22.3, 1.49), (23.7, 1.25), (21.9, 1.05), (22.8, 0.89), (23.8, 0.75), (22.1, 0.63), (23.2, 0.53), (22.5, 0.44), (23.5, 0.37), (22.0, 0.31), (22.9, 0.26), (23.4, 0.19),
    (24.7, 2.0), (26.2, 1.68), (25.0, 1.41), (26.6, 1.19), (24.6, 1.0), (25.6, 0.84), (26.7, 0.71), (24.8, 0.6), (26.0, 0.5), (25.3, 0.42), (26.4, 0.35), (24.7, 0.3), (25.7, 0.25), (25.8, 0.152),
    (27.8, 1.95), (29.5, 1.64), (28.1, 1.38), (29.9, 1.16), (27.7, 0.98), (28.8, 0.82), (30.0, 0.69), (27.9, 0.58), (29.2, 0.49), (28.4, 0.41), (29.7, 0.34), (27.8, 0.29), (28.9, 0.24),
    (31.2, 2.0), (33.1, 1.68), (31.6, 1.41), (33.6, 1.19), (31.0, 1.0), (32.3, 0.84), (33.8, 0.71), (31.3, 0.6), (32.8, 0.5), (31.9, 0.42), (33.4, 0.35), (31.2, 0.29), (32.4, 0.24), (32.5, 0.189),
    (35.0, 1.85), (37.2, 1.56), (35.5, 1.31), (37.7, 1.1), (34.9, 0.93), (36.3, 0.78), (37.9, 0.66), (35.2, 0.55), (36.8, 0.46), (35.8, 0.39), (37.5, 0.33), (35.0, 0.27), (36.4, 0.23),
    (39.3, 1.8), (41.7, 1.51), (39.8, 1.27), (42.3, 1.07), (39.1, 0.9), (40.7, 0.76), (42.5, 0.64), (39.5, 0.54), (41.3, 0.45), (40.2, 0.38), (42.0, 0.32), (39.3, 0.26), (40.8, 0.22), (40.9, 0.11),
    (44.0, 1.72), (46.8, 1.45), (44.6, 1.22), (47.4, 1.02), (43.8, 0.86), (45.6, 0.72), (47.7, 0.61), (44.2, 0.51), (46.3, 0.43), (45.1, 0.36), (47.1, 0.3), (44.0, 0.25), (45.8, 0.21),
    (49.4, 1.75), (52.5, 1.47), (50.0, 1.24), (53.1, 1.04), (49.1, 0.87), (51.1, 0.73), (53.4, 0.62), (49.6, 0.52), (51.9, 0.44), (50.6, 0.37), (52.8, 0.31), (49.3, 0.26), (51.3, 0.22), (50.8, 0.072), (49.8, 0.18),
    (55.3, 1.65), (58.8, 1.39), (56.0, 1.17), (59.5, 0.98), (55.0, 0.83), (57.3, 0.7), (59.9, 0.59), (55.6, 0.49), (58.2, 0.41), (56.7, 0.35), (59.2, 0.29), (55.2, 0.24), (57.5, 0.2),
    (62.0, 1.6), (65.9, 1.34), (62.8, 1.13), (66.7, 0.95), (61.6, 0.8), (64.2, 0.67), (67.1, 0.57), (62.3, 0.48), (65.2, 0.4), (63.5, 0.34), (66.3, 0.28), (61.9, 0.23), (64.5, 0.19), (64.6, 0.123),
    (69.5, 1.52), (73.8, 1.28), (70.4, 1.08), (74.7, 0.91), (69.0, 0.76), (71.9, 0.64), (75.2, 0.54), (69.8, 0.45), (73.0, 0.38), (71.1, 0.32), (74.3, 0.27), (69.3, 0.22), (72.3, 0.18), (70.0, 0.16),
    (77.8, 1.46), (82.7, 1.22), (78.8, 1.03), (83.7, 0.87), (77.3, 0.73), (80.5, 0.61), (84.2, 0.51), (78.2, 0.43), (81.8, 0.36), (79.6, 0.3), (83.2, 0.25), (77.6, 0.21), (81.0, 0.175),
    (86, 1.41), (92.0, 1.1), (88.0, 0.885), (93.5, 0.76), (87.0, 0.64), (90.5, 0.54), (94.0, 0.45), (87.5, 0.38), (91.5, 0.32), (89.5, 0.27), (93.0, 0.22), (87.0, 0.19), (95, 0.164), (91, 0.056), (100, 0.056),
    (98, 1.02), (103, 0.86), (99, 0.72), (104.5, 0.61), (97.5, 0.51), (101, 0.43), (105, 0.36), (98.5, 0.3), (102.5, 0.25), (100, 0.21), (104, 0.175), (98, 0.145),
    (110, 1.05), (116, 0.88), (111, 0.74), (117, 0.62), (109, 0.52), (113, 0.44), (117.5, 0.37), (110, 0.31), (115, 0.26), (112, 0.22), (116.5, 0.18), (109.5, 0.15), (114, 0.13),
    (119, 0.92), (129, 0.78), (123, 0.65), (130, 0.55), (122, 0.46), (127, 0.39), (131, 0.33), (123, 0.27), (128, 0.23), (125, 0.19), (130, 0.16), (122, 0.14), (123, 0.096),
    (138, 0.9), (145, 0.75), (139, 0.63), (146, 0.53), (137, 0.44), (142, 0.37), (147, 0.31), (138.5, 0.26), (144, 0.21), (141, 0.18), (146, 0.15), (138, 0.125),
    (155, 0.86), (163, 0.72), (156, 0.6), (164, 0.5), (154, 0.42), (159, 0.35), (165, 0.29), (155, 0.24), (162, 0.2), (158, 0.165), (164, 0.135), (156, 0.083),
    (175, 0.85), (183, 0.7), (176, 0.58), (185, 0.49), (174, 0.41), (179, 0.34), (186, 0.28), (175, 0.23), (182, 0.19), (178, 0.155), (184, 0.125),
    (196, 0.78), (205, 0.64), (198, 0.53), (207, 0.44), (195, 0.37), (201, 0.31), (208, 0.25), (197, 0.21), (204, 0.17), (200, 0.14), (206, 0.115),
    (220, 0.74), (228, 0.575), (218, 0.48), (230, 0.4), (221, 0.33), (226, 0.27), (232, 0.22), (219, 0.18), (227, 0.145), (223, 0.12), (239, 0.11),
    (244, 0.62), (252, 0.5), (241, 0.41), (255, 0.5), (247, 0.34), (250, 0.28), (243, 0.23), (254, 0.19), (246, 0.155), (252, 0.125), (248, 0.1), (255, 0.086), (250, 0.067),
]
worm_dsn_pts_b = [
    (2.0, 1.9), (2.05, 0.95), (2.0, 0.48), (2.3, 2.3), (2.3, 1.35), (2.35, 0.7), (2.3, 0.35),
    (2.6, 1.95), (2.6, 1.12), (2.65, 0.58), (3.0, 2.3), (3.0, 1.35), (3.05, 0.68), (2.95, 0.33),
    (3.4, 1.95), (3.45, 1.05), (3.4, 0.56), (3.9, 2.3), (3.9, 1.3), (3.95, 0.66), (3.9, 0.4),
    (4.4, 1.95), (4.5, 1.15), (4.45, 0.58), (5.1, 2.25), (5.1, 1.3), (5.15, 0.7), (5.1, 0.4),
    (5.8, 1.95), (5.85, 1.1), (5.8, 0.58), (6.5, 2.3), (6.55, 1.35), (6.5, 0.7), (6.55, 0.4),
    (7.4, 1.95), (7.35, 1.15), (7.4, 0.6), (8.3, 2.25), (8.35, 1.3), (8.3, 0.68), (8.35, 0.38),
    (9.3, 1.95), (9.35, 1.1), (9.3, 0.57), (10.3, 2.2), (10.4, 1.3), (10.3, 0.66), (10.4, 0.38),
    (11.6, 1.9), (11.7, 1.12), (11.6, 0.58), (12.9, 2.15), (13.0, 1.25), (12.9, 0.65), (13.0, 0.36),
    (14.8, 1.8), (14.9, 1.08), (14.8, 0.55), (16.8, 2.05), (16.9, 1.2), (16.8, 0.62), (16.9, 0.34),
    (19.0, 1.75), (19.1, 1.02), (19.0, 0.52), (21.5, 1.9), (21.6, 1.1), (21.5, 0.58), (21.6, 0.32),
    (24.0, 1.6), (24.1, 0.95), (24.0, 0.5), (27.0, 1.75), (27.1, 1.02), (27.0, 0.54), (27.1, 0.28),
    (30.5, 1.5), (30.6, 0.88), (30.5, 0.46), (34.0, 1.62), (34.1, 0.95), (34.0, 0.5), (34.1, 0.27),
    (38.0, 1.4), (38.1, 0.82), (38.0, 0.43), (42.5, 1.45), (42.6, 0.86), (42.5, 0.45), (42.6, 0.25),
    (48.0, 1.3), (48.1, 0.78), (48.0, 0.4), (54.0, 1.38), (54.1, 0.8), (54.0, 0.43), (54.1, 0.23),
    (60.0, 1.2), (60.1, 0.72), (60.0, 0.37), (67.0, 1.25), (67.1, 0.74), (67.0, 0.38), (67.1, 0.21),
    (75.0, 1.1), (75.1, 0.66), (75.0, 0.34), (84.0, 1.15), (84.1, 0.68), (84.0, 0.36), (84.1, 0.2),
    (96.0, 0.85), (96.5, 0.5), (96.0, 0.27), (107, 0.9), (107.5, 0.54), (107, 0.29), (107.5, 0.16),
    (120, 0.78), (120.5, 0.47), (120, 0.25), (133, 0.82), (133.5, 0.48), (133, 0.27), (133.5, 0.15),
    (148, 0.7), (148.5, 0.42), (148, 0.23), (168, 0.75), (168.5, 0.44), (168, 0.24), (168.5, 0.13),
    (190, 0.65), (190.5, 0.39), (190, 0.21), (212, 0.62), (212.5, 0.36), (212, 0.2), (212.5, 0.125),
]
worm_dsn_sparse_x = [280, 300, 325, 350, 410, 410, 420, 455, 480, 510, 510, 510, 530, 530, 545, 565, 595, 620, 650, 650,
                     700, 700, 720, 750, 760, 780, 810, 810, 840, 840, 870, 870, 945, 950, 970, 270, 290, 300, 280, 310,
                     290, 340, 360, 330, 370, 380, 400, 390, 430, 440, 460, 470, 480, 500, 520, 540, 560, 560, 580, 600,
                     600, 620, 640, 660, 680, 690, 720, 730, 740, 760, 780, 790, 800, 820, 830, 850, 860, 880, 900, 920,
                     940, 880, 600, 660, 265, 275, 320, 350, 260, 300]
worm_dsn_sparse_y = [0.43, 0.106, 0.18, 0.324, 0.137, 0.4, 0.243, 0.11, 0.0293, 0.48, 0.039, 0.158, 0.29, 0.092, 0.08, 0.064, 0.45, 0.04, 0.21, 0.15,
                     0.21, 0.067, 0.145, 0.043, 0.17, 0.25, 0.2, 0.106, 0.08, 0.069, 0.043, 0.142, 0.106, 0.066, 0.067, 0.35, 0.28, 0.23, 0.19, 0.15,
                     0.13, 0.26, 0.21, 0.125, 0.17, 0.35, 0.29, 0.22, 0.19, 0.33, 0.26, 0.16, 0.36, 0.22, 0.19, 0.24, 0.17, 0.13, 0.2, 0.28,
                     0.115, 0.16, 0.23, 0.12, 0.18, 0.095, 0.26, 0.12, 0.2, 0.09, 0.14, 0.075, 0.18, 0.12, 0.16, 0.1, 0.2, 0.085, 0.13, 0.075,
                     0.15, 0.06, 0.07, 0.085, 0.26, 0.14, 0.3, 0.1, 0.45, 0.38]
worm_dsn_curve_x = [2, 5, 10, 20, 50, 100, 200, 400, 500, 600, 700, 800, 870, 940]
worm_dsn_curve_y = [0.964, 0.93, 0.873, 0.767, 0.575, 0.432, 0.312, 0.218, 0.183, 0.137, 0.103, 0.075, 0.05, 0.032]


def gather(cols, pts_lists, sx, sy):
    xs, ys = [], []
    for xv, yl in cols.items():
        for yv in yl:
            xs.append(xv)
            ys.append(yv)
    for pts in pts_lists:
        for xv, yv in pts:
            xs.append(xv)
            ys.append(yv)
    return xs + list(sx), ys + list(sy)


panels = [
    dict(cols=yeast_dsc_cols, pts=[yeast_dsc_pts, yeast_dsc_pts_b], sx=yeast_dsc_sparse_x, sy=yeast_dsc_sparse_y,
         cx=yeast_dsc_curve_x, cy=yeast_dsc_curve_y, xt=yeast_xticks, xtl=yeast_xticklabels, row=0, col=0),
    dict(cols=worm_dsc_cols, pts=[worm_dsc_pts, worm_dsc_pts_b], sx=worm_dsc_sparse_x, sy=worm_dsc_sparse_y,
         cx=worm_dsc_curve_x, cy=worm_dsc_curve_y, xt=worm_xticks, xtl=worm_xticklabels, row=0, col=1),
    dict(cols=yeast_dsn_cols, pts=[yeast_dsn_pts, yeast_dsn_pts_b], sx=yeast_dsn_sparse_x, sy=yeast_dsn_sparse_y,
         cx=yeast_dsn_curve_x, cy=yeast_dsn_curve_y, xt=yeast_xticks, xtl=yeast_xticklabels, row=1, col=0),
    dict(cols=worm_dsn_cols, pts=[worm_dsn_pts, worm_dsn_pts_b], sx=worm_dsn_sparse_x, sy=worm_dsn_sparse_y,
         cx=worm_dsn_curve_x, cy=worm_dsn_curve_y, xt=worm_xticks, xtl=worm_xticklabels, row=1, col=1),
]

# ---------------- layout ----------------
W, H = 861, 890
fig = plt.figure(figsize=(W / 100, H / 100), dpi=100)
fig.patch.set_facecolor('white')

left_px = [87.3, 523.0]
top_px = [46.4, 489.8]
aw, ah = 324.7, 321.5
axis_col = '#333333'
text_col = '#1a1a1a'

for p in panels:
    r, c = p['row'], p['col']
    ax = fig.add_axes([left_px[c] / W, 1 - (top_px[r] + ah) / H, aw / W, ah / H])
    ax.set_xscale('log')
    ax.set_yscale('log')
    x0, x1 = p['xt'][0], p['xt'][-1]
    fx = (x1 / x0) ** 0.04
    ax.set_xlim(x0 / fx, x1 * fx)
    fy = (y_ticks[-1] / y_ticks[0]) ** 0.04
    ax.set_ylim(y_ticks[0] / fy, y_ticks[-1] * fy)

    xs, ys = gather(p['cols'], p['pts'], p['sx'], p['sy'])
    ax.scatter(xs, ys, s=44, facecolors='#c4c4c4', edgecolors='#666666', linewidths=0.95, zorder=2)
    ax.plot(p['cx'], p['cy'], color='#1a1a1a', lw=1.4, zorder=3, solid_capstyle='butt')

    for s in ['top', 'right']:
        ax.spines[s].set_visible(False)
    ax.spines['left'].set_bounds(y_ticks[0], y_ticks[-1])
    ax.spines['bottom'].set_bounds(x0, x1)
    for s in ['left', 'bottom']:
        ax.spines[s].set_color(axis_col)
        ax.spines[s].set_linewidth(0.9)

    ax.set_xticks(p['xt'])
    ax.set_xticklabels(p['xtl'])
    ax.set_yticks(y_ticks)
    ax.set_yticklabels(y_ticklabels, rotation=90, va='center')
    ax.xaxis.set_minor_locator(NullLocator())
    ax.yaxis.set_minor_locator(NullLocator())
    ax.tick_params(axis='both', length=6.8, width=0.8, color=axis_col, labelsize=14, labelcolor=text_col)
    ax.tick_params(axis='x', pad=8)
    ax.tick_params(axis='y', pad=2.5)
    ax.set_facecolor('none')

    cx_px = left_px[c] + aw / 2
    cy_px = top_px[r] + ah / 2
    fig.text((left_px[c] - 60) / W, 1 - cy_px / H, y_labels[r], rotation=90, ha='center', va='center',
             fontsize=15, color=text_col)
    fig.text(cx_px / W, 1 - (top_px[r] + 389) / H, x_label, ha='center', va='baseline',
             fontsize=15.5, color=text_col)
    if r == 0:
        fig.text(cx_px / W, 1 - 30 / H, titles[c], ha='center', va='baseline', fontsize=17.5,
                 fontweight='bold', color=text_col)

fig.savefig('out.png', dpi=100, facecolor='white')
